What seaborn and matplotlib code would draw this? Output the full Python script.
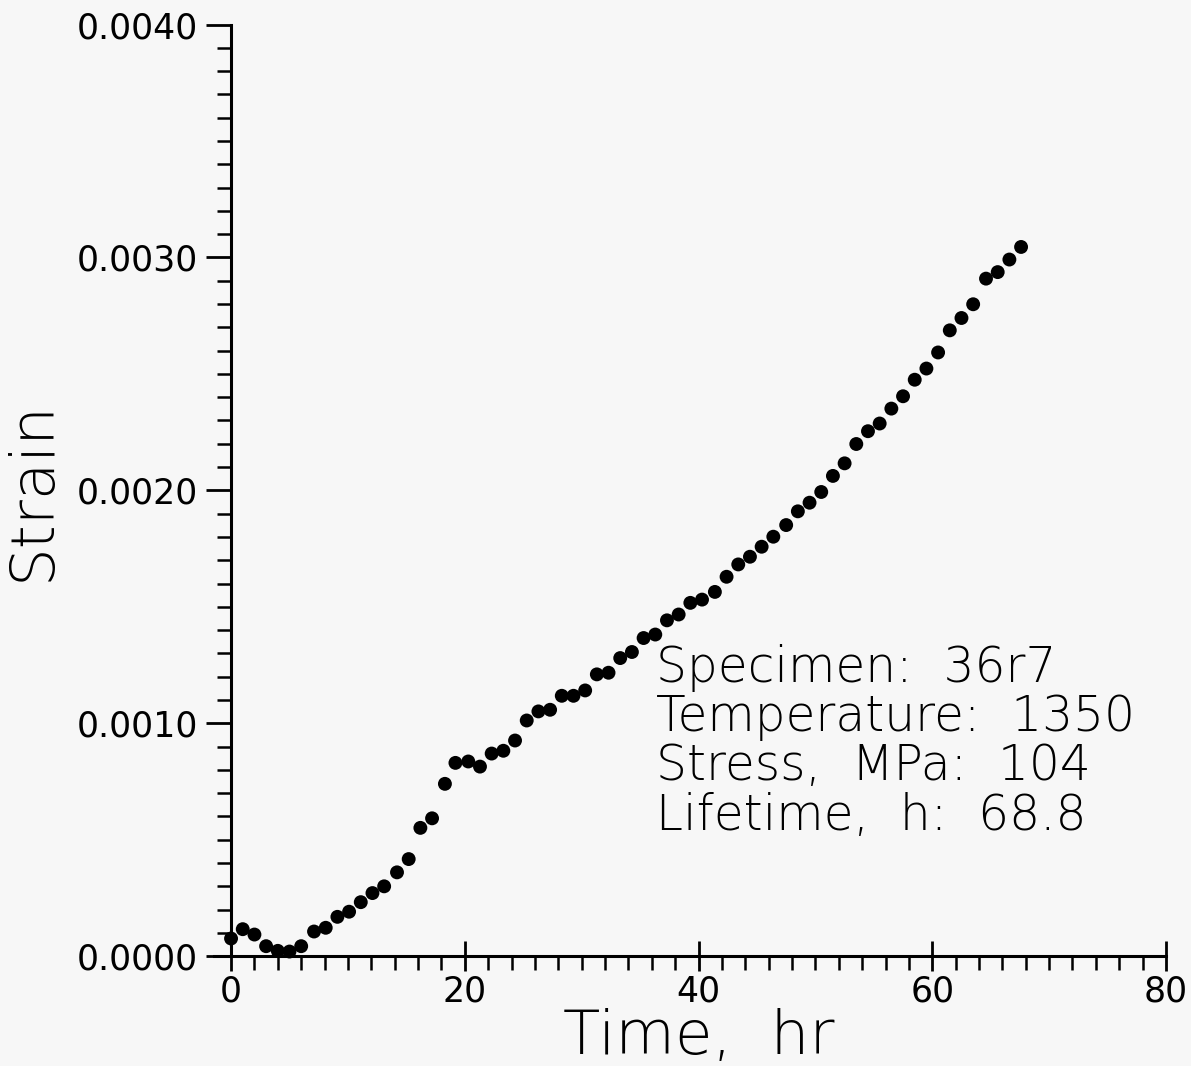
import numpy as np
import pandas as pd
import matplotlib
matplotlib.use("Agg")
import matplotlib.pyplot as plt
import seaborn as sns
from matplotlib.ticker import MultipleLocator, FormatStrFormatter

# 数据
time_hr = [0.0, 1.0, 2.0, 3.0, 4.0, 5.0, 6.0, 7.1, 8.1, 9.1,
           10.1, 11.1, 12.1, 13.1, 14.2, 15.2, 16.2, 17.2, 18.3, 19.2,
           20.3, 21.3, 22.3, 23.3, 24.3, 25.3, 26.3, 27.3, 28.3, 29.3,
           30.3, 31.3, 32.3, 33.3, 34.3, 35.3, 36.3, 37.3, 38.3, 39.3,
           40.3, 41.4, 42.4, 43.4, 44.4, 45.4, 46.4, 47.5, 48.5, 49.5,
           50.5, 51.5, 52.5, 53.5, 54.5, 55.5, 56.5, 57.5, 58.5, 59.5,
           60.5, 61.5, 62.5, 63.5, 64.6, 65.6, 66.6, 67.6]
strain = [0.000076, 0.000116, 0.000093, 0.000043, 0.000023, 0.000020, 0.000043, 0.000106, 0.000122, 0.000169,
          0.000191, 0.000232, 0.000271, 0.000300, 0.000360, 0.000417, 0.000551, 0.000592, 0.000740, 0.000830,
          0.000836, 0.000814, 0.000870, 0.000882, 0.000926, 0.001012, 0.001051, 0.001058, 0.001118, 0.001118,
          0.001141, 0.001210, 0.001217, 0.001280, 0.001306, 0.001366, 0.001381, 0.001442, 0.001467, 0.001517,
          0.001531, 0.001564, 0.001629, 0.001682, 0.001715, 0.001758, 0.001801, 0.001851, 0.001910, 0.001947,
          0.001993, 0.002062, 0.002116, 0.002199, 0.002254, 0.002287, 0.002351, 0.002404, 0.002475, 0.002523,
          0.002592, 0.002687, 0.002740, 0.002799, 0.002909, 0.002937, 0.002991, 0.003045]

info_lines = ["Specimen:  36r7", "Temperature:  1350", "Stress,  MPa:  104", "Lifetime,  h:  68.8"]

df = pd.DataFrame({"Time": time_hr, "Strain": strain})

sns.set_style("ticks")
plt.rcParams['font.family'] = ['DejaVu Sans']
plt.rcParams['text.color'] = 'black'
plt.rcParams['axes.labelcolor'] = 'black'
plt.rcParams['xtick.color'] = 'black'
plt.rcParams['ytick.color'] = 'black'

fig = plt.figure(figsize=(11.91, 10.66), dpi=100, facecolor='#f7f7f7')
ax = fig.add_axes([0.194, 0.103, 0.785, 0.874])
ax.set_facecolor('#f7f7f7')

sns.scatterplot(data=df, x="Time", y="Strain", ax=ax, color='black',
                s=100, edgecolor='none', clip_on=False)

ax.set_xlim(0, 80)
ax.set_ylim(0, 0.004)

# 轴线和刻度
for side in ['top', 'right']:
    ax.spines[side].set_visible(False)
for side in ['left', 'bottom']:
    ax.spines[side].set_linewidth(2.2)
    ax.spines[side].set_color('black')
ax.spines['bottom'].set_bounds(-1.5, 80)

ax.xaxis.set_major_locator(MultipleLocator(20))
ax.xaxis.set_minor_locator(MultipleLocator(2))
ax.yaxis.set_major_locator(MultipleLocator(0.001))
ax.yaxis.set_minor_locator(MultipleLocator(0.0001))
ax.yaxis.set_major_formatter(FormatStrFormatter('%.4f'))

ax.tick_params(axis='x', which='major', direction='inout', length=22, width=2, labelsize=25, pad=2)
ax.tick_params(axis='x', which='minor', direction='out', length=10, width=1.8)
ax.tick_params(axis='y', which='major', direction='out', length=18, width=2, labelsize=25, pad=6)
ax.tick_params(axis='y', which='minor', direction='out', length=10, width=1.8)

ax.set_xlabel("Time,  hr", fontsize=44, labelpad=0, fontweight='light')
ax.set_ylabel("Strain", fontsize=44, labelpad=10, fontweight='light')

# 标注文字
ax.text(36.4, 0.00134, "\n".join(info_lines), fontsize=35, ha='left', va='top',
        linespacing=1.03, fontweight='light')

fig.savefig("out.png", dpi=100, facecolor=fig.get_facecolor())
